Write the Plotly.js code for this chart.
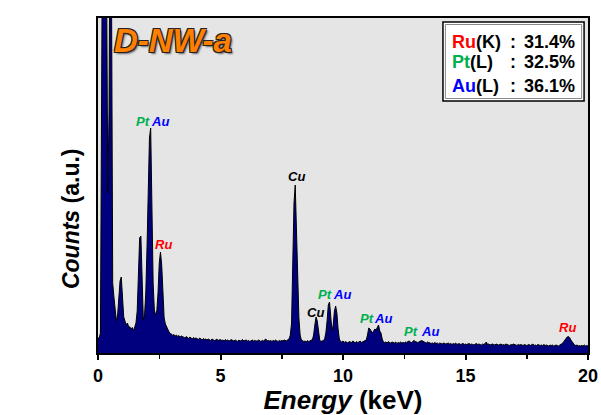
<!DOCTYPE html>
<html>
<head>
<meta charset="utf-8">
<script src="https://cdn.plot.ly/plotly-3.0.1.min.js"></script>
<style>html,body{margin:0;padding:0;background:#fff;}#chart{width:601px;height:415px;}</style>
</head>
<body>
<div id="chart"></div>
<script>
// EDS spectrum, channel width 0.05 keV starting at 0 keV (counts, arbitrary units)
const channelStart = 0;
const channelStep = 0.05;
const counts = [
  // 0.00 - 2.95 keV
  150,150,200,3500,5200,6000,5600,3800,1600,2400,
  5000,3800,700,560,430,320,380,540,720,760,
  500,360,320,280,300,265,260,240,255,225,
  260,300,420,700,1150,1170,650,330,380,600,
  1050,1600,2150,2250,1500,700,430,380,420,600,
  900,1010,880,520,350,290,260,230,210,195,
  // 3.00 - 7.45 keV
  190,175,185,170,180,165,175,160,170,165,
  160,150,165,155,145,160,150,140,155,145,
  150,140,135,150,140,130,145,135,140,130,
  140,130,125,140,135,125,130,140,125,130,
  135,125,130,120,135,125,130,120,125,135,
  125,120,130,125,115,130,120,125,135,120,
  125,130,120,125,115,125,130,120,125,120,
  120,130,125,115,125,120,130,140,120,125,
  120,125,115,125,120,130,120,115,125,120,
  // 7.50 - 7.75
  125,120,130,125,120,135,
  // 7.80 - 8.30 (Cu K-alpha)
  140,180,300,900,1500,1680,1300,700,350,180,130,
  // 8.35 - 8.70
  125,115,120,110,125,115,120,130,
  // 8.75 - 9.10 (Cu K-beta)
  130,180,280,360,320,200,130,115,
  // 9.15 - 9.90 (Pt / Au L-alpha)
  120,125,140,200,320,480,510,340,220,280,420,470,400,240,140,115,
  // 9.95 - 10.90
  110,120,105,115,110,100,115,110,105,120,110,100,115,105,110,120,105,110,115,120,
  // 10.95 - 11.65 (Pt / Au L-beta)
  130,180,250,240,220,200,220,240,230,260,280,220,200,140,110,
  // 11.70 - 12.45
  105,110,100,115,105,100,110,105,100,110,95,105,100,110,100,105,
  // 12.50 - 13.60 (Pt / Au L-gamma)
  100,110,105,115,120,110,105,115,125,115,110,105,110,120,125,120,110,105,100,110,105,100,95,
  // 13.65 - 15.00
  100,95,105,95,100,90,100,95,90,100,95,90,95,100,90,95,85,95,90,100,85,90,95,85,90,95,85,90,
  // 15.05 - 16.50
  85,90,95,85,90,85,80,90,95,85,90,85,80,90,85,95,110,85,90,80,85,90,85,80,90,85,80,85,90,80,
  // 16.55 - 18.00
  85,80,90,85,80,75,85,80,90,85,80,75,85,80,85,80,75,85,80,75,80,85,75,80,90,75,80,75,85,80,
  // 18.05 - 18.95
  75,80,75,85,75,80,75,70,80,75,80,70,75,80,75,70,80,85,95,
  // 19.00 - 19.45 (Ru K-alpha)
  110,130,150,160,165,155,130,110,90,80,
  // 19.50 - 20.00
  75,80,70,75,70,75,70,80,70,75,70
];
const energy = counts.map((_, i) => +(channelStart + i * channelStep).toFixed(2));

const compElements = ["Ru", "Pt", "Au"];
const compLines = ["(K)", "(L)", "(L)"];
const compPercent = ["31.4%", "32.5%", "36.1%"];
const compColors = ["#ff0000", "#00b050", "#0000ff"];

const xTickVals = [0, 5, 10, 15, 20];
const xTickText = ["0", "5", "10", "15", "20"];

const FONT = "Liberation Sans, Arial, sans-serif";
const GREEN = "#00b050", BLUE = "#0000ff", RED = "#ff0000";

function peakLabel(text, color, x, y) {
  return {text: text, x: x, y: y, xref: 'x', yref: 'y', showarrow: false,
    font: {family: FONT, size: 13, color: color, weight: 'bold', style: 'italic'}};
}

const annotations = [
  peakLabel("Pt", GREEN, 1.85, 2313),
  peakLabel("Au", BLUE, 2.53, 2313),
  peakLabel("Ru", RED, 2.67, 1090),
  peakLabel("Cu", "#000000", 8.09, 1763),
  peakLabel("Cu", "#000000", 8.86, 410),
  peakLabel("Pt", GREEN, 9.25, 590),
  peakLabel("Au", BLUE, 9.95, 590),
  peakLabel("Pt", GREEN, 10.97, 347),
  peakLabel("Au", BLUE, 11.65, 347),
  peakLabel("Pt", GREEN, 12.76, 220),
  peakLabel("Au", BLUE, 13.55, 220),
  peakLabel("Ru", RED, 19.17, 253),
  {text: "D-NW-a", x: 3.07, y: 3130, xref: 'x', yref: 'y', showarrow: false,
   font: {family: FONT, size: 33, color: "#ff8000", weight: 'bold', style: 'italic',
     shadow: "1px 1px 0 #222, -1px -1px 0 #222, 1px -1px 0 #222, -1px 1px 0 #222, 2px 2px 2px #666"}},
  // y-axis title
  {text: "<i>Counts</i> (a.u.)", xref: 'paper', yref: 'y', x: -0.055, y: 1340,
   xanchor: 'center', yanchor: 'middle', textangle: -90, showarrow: false,
   font: {family: FONT, size: 23, color: '#000', weight: 'bold'}}
];

const rowY = [3113, 2907, 2670];
compElements.forEach((el, i) => {
  annotations.push({
    text: '<span style="color:' + compColors[i] + '">' + el + '</span>' + compLines[i],
    x: 14.37, y: rowY[i], xref: 'x', yref: 'y', xanchor: 'left', showarrow: false,
    font: {family: FONT, size: 18, color: '#000', weight: 'bold'}
  });
  annotations.push({
    text: ':', x: 16.94, y: rowY[i], xref: 'x', yref: 'y', showarrow: false,
    font: {family: FONT, size: 18, color: '#000', weight: 'bold'}
  });
  annotations.push({
    text: compPercent[i], x: 17.29, y: rowY[i], xref: 'x', yref: 'y', xanchor: 'left', showarrow: false,
    font: {family: FONT, size: 18, color: '#000', weight: 'bold'}
  });
});

const shapes = [
  {type: 'rect', xref: 'x', yref: 'y', x0: 14.08, x1: 19.84, y0: 2520, y1: 3310,
   fillcolor: '#ffffff', line: {color: '#000', width: 1.5}, layer: 'above'},
  {type: 'rect', xref: 'x', yref: 'y', x0: 14.18, x1: 19.74, y0: 2545, y1: 3285,
   fillcolor: 'rgba(0,0,0,0)', line: {color: '#888', width: 1}, layer: 'above'}
];

const trace = {
  x: energy, y: counts, type: 'scatter', mode: 'lines',
  fill: 'tozeroy', fillcolor: '#00007f',
  line: {color: '#000000', width: 1}, hoverinfo: 'skip'
};

const layout = {
  width: 601, height: 415,
  margin: {l: 98, r: 13, t: 18, b: 62},
  paper_bgcolor: '#ffffff', plot_bgcolor: '#e5e5e5',
  showlegend: false,
  xaxis: {
    range: [0, 20], tickvals: xTickVals, ticktext: xTickText,
    ticks: 'outside', ticklen: 5, tickwidth: 2, tickcolor: '#000',
    minor: {dtick: 2.5, tick0: 0, ticks: 'outside', ticklen: 4, tickwidth: 1.5, tickcolor: '#000', showgrid: false},
    showline: true, linewidth: 2, linecolor: '#000', mirror: true,
    showgrid: false, zeroline: false,
    tickfont: {family: FONT, size: 18, color: '#000', weight: 'bold'},
    title: {text: '<i>Energy</i> (keV)', standoff: 3,
      font: {family: FONT, size: 26, color: '#000', weight: 'bold'}}
  },
  yaxis: {
    range: [0, 3350], showticklabels: false, ticks: '',
    showline: true, linewidth: 2, linecolor: '#000', mirror: true,
    showgrid: false, zeroline: false
  },
  annotations: annotations,
  shapes: shapes
};

Plotly.newPlot('chart', [trace], layout, {displayModeBar: false, staticPlot: true});
</script>
</body>
</html>
